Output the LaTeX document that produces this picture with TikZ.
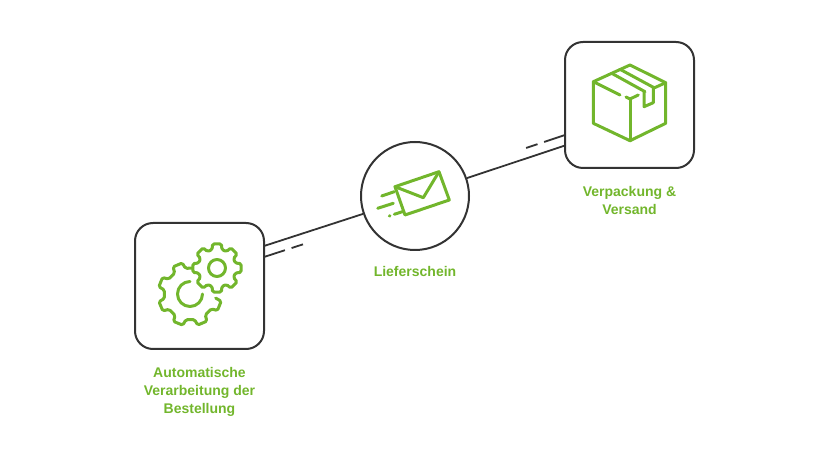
\documentclass[tikz,border=0pt]{standalone}
\usepackage{fontspec}
\setmainfont{Liberation Sans}
\usepackage{xcolor}
\definecolor{icongreen}{HTML}{72B62C}
\definecolor{linegray}{HTML}{333333}
\tikzset{
    stepbox/.style={
        draw=linegray,
        line width=2pt,
        rounded corners=18pt,
        minimum width=129pt,
        minimum height=126pt
    },
    stepcircle/.style={
        draw=linegray,
        line width=2pt,
        circle,
        minimum size=108pt
    },
    steplabel/.style={
        text=icongreen,
        font=\fontsize{14}{18}\selectfont\bfseries,
        align=center
    },
    link/.style={
        draw=linegray,
        line width=1.8pt
    },
    dashlink/.style={
        link,
        dash pattern=on 22pt off 7pt on 12pt off 100pt
    },
    icon/.style={
        draw=icongreen,
        line width=3pt,
        line cap=round,
        line join=round
    }
}

\begin{document}
\begin{tikzpicture}[x=1pt,y=1pt]
    \useasboundingbox (0,0) rectangle (830,450);

    \node[stepbox] (orderbox) at (199.5,164) {};
    \node[stepcircle] (mailcircle) at (415,254) {};
    \node[stepbox] (packbox) at (629.5,345) {};

    \node[steplabel] (orderlabel) at (199.5,58.5) {Automatische\\Verarbeitung der\\Bestellung};
    \node[steplabel] (maillabel) at (415,179) {Lieferschein};
    \node[steplabel] (packlabel) at (629.5,250) {Verpackung \&\\Versand};

    \coordinate (orderhigh) at (264,204);
    \coordinate (orderlow) at (264,193);
    \coordinate (orderlowend) at (304,206);
    \coordinate (packhigh) at (565,304.5);
    \coordinate (packlow) at (565,315);
    \coordinate (packlowend) at (526,302);

    \draw[link] (orderhigh) -- (mailcircle.199);
    \draw[link] (mailcircle.19) -- (packhigh);
    \draw[dashlink] (orderlow) -- (orderlowend);
    \draw[dashlink] (packlow) -- (packlowend);

    % gears
    \begin{scope}[shift={(190,156)}]
        \draw[icon,rounded corners=1.5pt] (86:26)
            \foreach \a in {113,158,203,248,293,338} {
                -- (\a-13:26) -- (\a-9:32) -- (\a+9:32) -- (\a+13:26)
            };
        \draw[icon] (90:12.5) arc (90:360:12.5);
    \end{scope}
    \begin{scope}[shift={(217,182)}]
        \draw[icon,rounded corners=1.5pt] (15:19)
            \foreach \a in {45,90,135,180,225,270,315} {
                -- (\a-15:19) -- (\a-10.5:24.5) -- (\a+10.5:24.5) -- (\a+15:19)
            }
            -- (-15:19) -- (-10.5:24.5) -- (10.5:24.5) -- cycle;
        \draw[icon] (0,0) circle (8.5);
    \end{scope}

    % envelope
    \draw[icon] (395,263.3) -- (439,278.3) -- (449.3,250) -- (405,235) -- cycle;
    \draw[icon] (395,263.3) -- (423.3,252.3) -- (439,278.3);
    \draw[icon] (381.7,254) -- (394.3,258.3);
    \draw[icon] (377.7,241.7) -- (393.3,246.7);
    \draw[icon] (389.3,234) -- (390,234.2);
    \draw[icon] (394.3,235.7) -- (402.3,238.3);

    % parcel
    \draw[icon] (593.3,368.3) -- (593.3,326.7) -- (630,309.3) -- (665.7,326.7) -- (665.7,367.3) -- (630,385) -- cycle;
    \draw[icon] (593.3,368.3) -- (620,355);
    \draw[icon] (626,353) -- (630,351) -- (638.3,355);
    \draw[icon] (630,351) -- (630,309.3);
    \draw[icon] (611.7,376.7) -- (645,358.3);
    \draw[icon] (620,380.7) -- (653.3,362.7);
    \draw[icon] (665.7,367.3) -- (653.3,361.7);
    \draw[icon] (644,357.7) -- (644,343.3) -- (653.3,347.3) -- (653.3,362.7);
\end{tikzpicture}
\end{document}
